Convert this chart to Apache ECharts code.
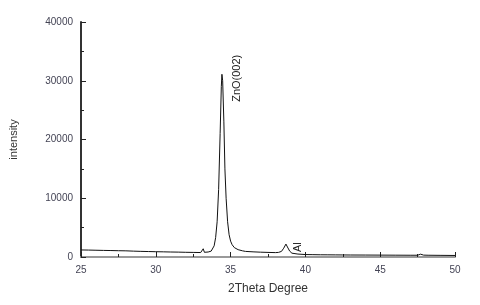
<!DOCTYPE html>
<html><head><meta charset="utf-8">
<script src="https://cdn.jsdelivr.net/npm/echarts@6/dist/echarts.min.js"></script>
<style>html,body{margin:0;padding:0;background:#fff}#c{width:480px;height:305px}</style>
</head><body><div id="c"></div>
<script>
var angles = [25,25.5,26,26.5,27,27.5,28,28.5,29,29.5,30,30.5,31,31.5,32,32.5,33,33.1,33.17,33.25,33.5,33.7,33.8,33.9,34.0,34.1,34.2,34.3,34.38,34.42,34.47,34.55,34.62,34.7,34.8,34.9,35.0,35.1,35.25,35.5,35.8,36,36.5,37,37.5,38,38.2,38.4,38.55,38.7,38.8,38.95,39.1,39.5,40,40.5,41,41.5,42,42.5,43,44,45,46,47,47.5,47.7,47.9,48.2,49,50];
var intensity = [1200,1180,1150,1120,1100,1070,1050,1000,960,930,900,880,850,830,800,780,760,800,1400,800,850,1000,1300,1900,3300,6000,11500,21000,29000,31100,30000,23000,15000,10000,6000,3800,2700,2100,1600,1250,1050,950,880,820,780,750,780,950,1500,2200,1700,1000,650,500,420,400,380,370,360,350,340,330,320,310,300,300,480,320,300,280,260];
var xTicks = [25,30,35,40,45,50];
var yTicks = [0,10000,20000,30000,40000];
var peakLabels = [{text:'ZnO(002)', x:34.42, y:31100}, {text:'Al', x:38.7, y:2200}];

var chart = echarts.init(document.getElementById('c'));
var data = angles.map(function(a,i){return [a,intensity[i]];});
chart.setOption({
  animation:false,
  grid:{left:78,right:25,top:22,bottom:48},
  xAxis:{type:'value',min:xTicks[0],max:xTicks[xTicks.length-1],interval:5,
    name:'2Theta Degree',nameLocation:'middle',nameGap:26,
    nameTextStyle:{fontFamily:'Liberation Sans',fontSize:12,color:'#333'},
    axisLine:{lineStyle:{color:'#999',width:2}},
    axisTick:{inside:true,length:5,lineStyle:{color:'#222',width:1}},
    minorTick:{show:true,splitNumber:2,length:3,lineStyle:{color:'#222'}},
    axisLabel:{fontFamily:'Liberation Sans',fontSize:10,color:'#445',margin:8,
      formatter:function(v){return String(v);}},
    splitLine:{show:false}},
  yAxis:{type:'value',min:yTicks[0],max:yTicks[yTicks.length-1],interval:10000,
    name:'intensity',nameLocation:'middle',nameGap:62,
    nameTextStyle:{fontFamily:'Liberation Sans',fontSize:11,color:'#333'},
    axisLine:{show:true,lineStyle:{color:'#333',width:2}},
    axisTick:{show:true,inside:true,length:5,lineStyle:{color:'#222'}},
    minorTick:{show:true,splitNumber:2,length:3,lineStyle:{color:'#222'}},
    axisLabel:{fontFamily:'Liberation Sans',fontSize:10,color:'#445',margin:8,
      formatter:function(v){return String(v);}},
    splitLine:{show:false}},
  series:[{type:'line',data:data,showSymbol:false,lineStyle:{color:'#111',width:1}}]
});
var g = [];
var p1 = chart.convertToPixel({gridIndex:0},[peakLabels[0].x,peakLabels[0].y]);
g.push({type:'text',x:p1[0]+15,y:p1[1]+4,rotation:Math.PI/2,
  style:{text:peakLabels[0].text,fontFamily:'Liberation Sans',fontSize:11,fill:'#222',textAlign:'center',textVerticalAlign:'middle'}});
var p2 = chart.convertToPixel({gridIndex:0},[peakLabels[1].x,peakLabels[1].y]);
g.push({type:'text',x:p2[0]+12,y:p2[1]+3,rotation:Math.PI/2,
  style:{text:peakLabels[1].text,fontFamily:'Liberation Sans',fontSize:11,fill:'#222',textAlign:'center',textVerticalAlign:'middle'}});
chart.setOption({graphic:g});
</script></body></html>
